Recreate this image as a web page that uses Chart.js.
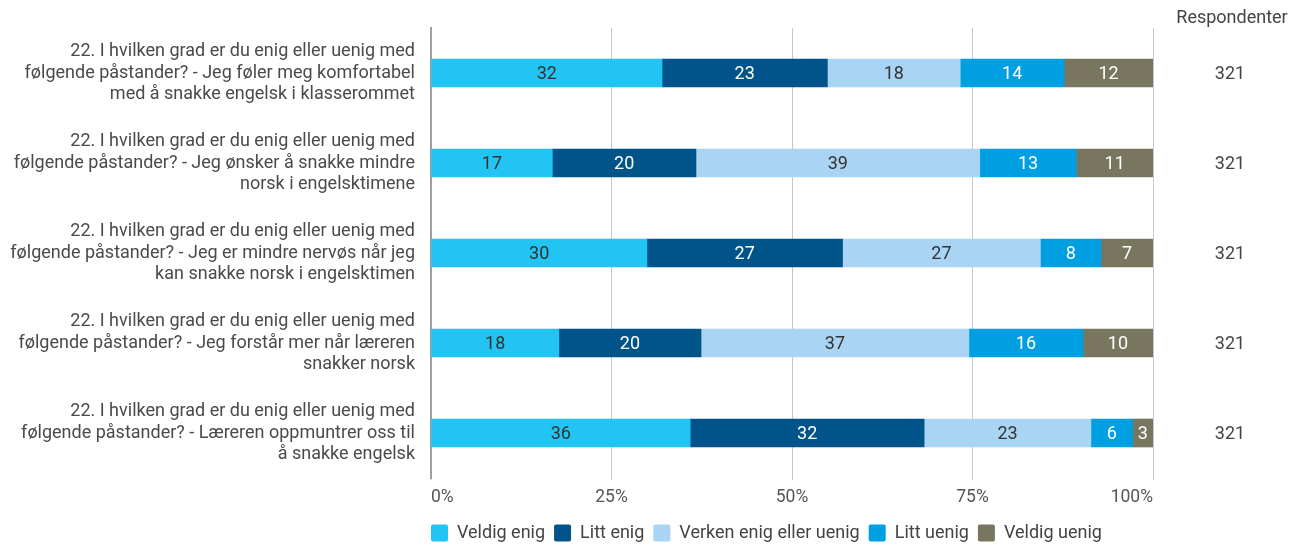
<!DOCTYPE html>
<html>
<head>
<meta charset="utf-8">
<script src="https://cdn.jsdelivr.net/npm/chart.js@4"></script>
<style>
  body { margin: 0; background: #fff; }
  #wrap { width: 1304px; height: 545px; }
</style>
</head>
<body>
<div id="wrap"><canvas id="chart"></canvas></div>
<script>
// ------------------ Data ------------------
const questions = [
  ["22. I hvilken grad er du enig eller uenig med", "følgende påstander? - Jeg føler meg komfortabel", "med å snakke engelsk i klasserommet"],
  ["22. I hvilken grad er du enig eller uenig med", "følgende påstander? - Jeg ønsker å snakke mindre", "norsk i engelsktimene"],
  ["22. I hvilken grad er du enig eller uenig med", "følgende påstander? - Jeg er mindre nervøs når jeg", "kan snakke norsk i engelsktimen"],
  ["22. I hvilken grad er du enig eller uenig med", "følgende påstander? - Jeg forstår mer når læreren", "snakker norsk"],
  ["22. I hvilken grad er du enig eller uenig med", "følgende påstander? - Læreren oppmuntrer oss til", "å snakke engelsk"]
];

const answerNames = ["Veldig enig", "Litt enig", "Verken enig eller uenig", "Litt uenig", "Veldig uenig"];

// percent per answer, one value per question
const veldigEnig  = [32.0, 16.8, 29.9, 17.7, 35.9];
const littEnig    = [22.9, 19.9, 27.1, 19.7, 32.4];
const verken      = [18.4, 39.3, 27.4, 37.1, 23.1];
const littUenig   = [14.4, 13.4, 8.4, 15.8, 5.8];
const veldigUenig = [12.3, 10.6, 7.2, 9.7, 2.8];

const respondents = [321, 321, 321, 321, 321];
const xTicks = [0, 25, 50, 75, 100];

const colors = ["#21c4f3", "#00548a", "#aad4f4", "#009fe1", "#79765f"];
const valueColors = ["#333333", "#ffffff", "#333333", "#ffffff", "#ffffff"];

const FONT = "Roboto";
const legendPad = 9;

// ------------------ Plugins ------------------
const barLabels = {
  id: "barLabels",
  afterLayout(chart) {
    // legend starts at the plot's left edge
    const lg = chart.legend;
    lg.left -= legendPad;
    lg.right -= legendPad;
  },
  afterDatasetsDraw(chart) {
    const ctx = chart.ctx;
    ctx.save();
    ctx.font = "18px " + FONT;
    ctx.textAlign = "center";
    ctx.textBaseline = "middle";
    chart.data.datasets.forEach((ds, i) => {
      chart.getDatasetMeta(i).data.forEach((bar, j) => {
        const p = bar.getProps(["x", "y", "base"], true);
        ctx.fillStyle = valueColors[i];
        ctx.fillText(Math.round(ds.data[j]), (p.x + p.base) / 2, p.y + 1);
      });
    });

    // respondent column on the right
    const area = chart.chartArea;
    const colX = area.right + 77;
    ctx.fillStyle = "#444";
    ctx.fillText("Respondenter", colX + 2, area.top - 10);
    respondents.forEach((n, j) => {
      ctx.fillText(n, colX, chart.scales.y.getPixelForValue(j) + 1);
    });
    ctx.restore();
  }
};

// ------------------ Chart ------------------
const seriesData = [veldigEnig, littEnig, verken, littUenig, veldigUenig];

new Chart(document.getElementById("chart"), {
  type: "bar",
  data: {
    labels: questions,
    datasets: answerNames.map((name, i) => ({
      label: name,
      data: seriesData[i],
      backgroundColor: colors[i],
      borderWidth: 0,
      barThickness: 28
    }))
  },
  options: {
    indexAxis: "y",
    responsive: true,
    maintainAspectRatio: false,
    animation: false,
    layout: { padding: { top: 28, right: 151, bottom: -7, left: 0 } },
    scales: {
      x: {
        stacked: true,
        min: 0,
        max: 100,
        afterBuildTicks(scale) {
          scale.ticks = xTicks.map(v => ({ value: v }));
        },
        grid: { color: "#c8c8c8", lineWidth: 1, tickLength: 2 },
        border: { display: false },
        ticks: {
          align: "inner",
          padding: 7,
          color: "#555",
          font: { family: FONT, size: 17.5 },
          callback: v => v + "%"
        }
      },
      y: {
        stacked: true,
        afterFit(scale) {
          scale.width = 431;
          scale.paddingTop = 0;
          scale.paddingBottom = 0;
        },
        grid: { display: false, drawTicks: false },
        border: { display: true, color: "#a0a0a0", width: 2 },
        ticks: {
          padding: 16,
          color: "#4a4a4a",
          font: { family: FONT, size: 18, lineHeight: 1.167 }
        }
      }
    },
    plugins: {
      legend: {
        position: "bottom",
        fullSize: false,
        align: "start",
        labels: {
          boxWidth: 17,
          boxHeight: 17,
          useBorderRadius: true,
          borderRadius: 2,
          padding: legendPad,
          color: "#444",
          font: { family: FONT, size: 18 }
        }
      },
      tooltip: { enabled: false }
    }
  },
  plugins: [barLabels]
});
</script>
</body>
</html>
